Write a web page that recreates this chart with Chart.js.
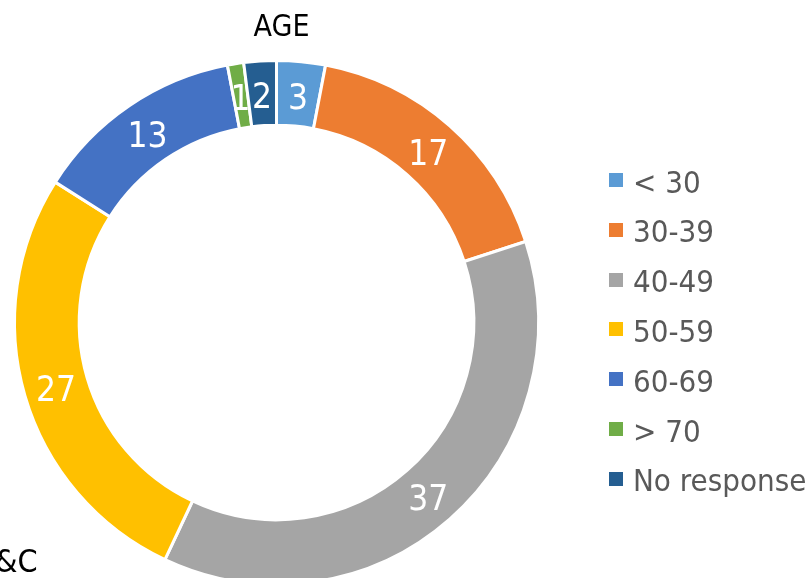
<!DOCTYPE html>
<html>
<head>
<meta charset="utf-8">
<script src="https://cdn.jsdelivr.net/npm/chart.js@4.4.1/dist/chart.umd.min.js"></script>
<style>
  html, body { margin: 0; padding: 0; width: 810px; height: 578px; overflow: hidden; background: #fff; }
  #wrap { position: absolute; left: 0; top: 0; width: 810px; height: 600px; }
  .txt { position: absolute; font-family: "DejaVu Sans Condensed", "DejaVu Sans", sans-serif; font-stretch: condensed; white-space: nowrap; }
  #title { left: 0; width: 563px; top: 8px; text-align: center; font-size: 30px; color: #000; line-height: 35px; }
  #cut { left: -5px; top: 542px; font-size: 32px; color: #000; line-height: 38px; }
  .leg { position: absolute; left: 609px; height: 36px; font-family: "DejaVu Sans Condensed", "DejaVu Sans", sans-serif; font-stretch: condensed; font-size: 31px; color: #595959; line-height: 36px; white-space: nowrap; }
  .leg i { position: absolute; left: 0; top: 9.5px; width: 14px; height: 14px; }
  .leg span { position: absolute; left: 24px; top: 0; }
</style>
</head>
<body>
<div id="wrap"><canvas id="c"></canvas></div>
<div class="txt" id="title">AGE</div>
<div class="txt" id="cut">&amp;C</div>
<div id="legend"></div>
<script>
const categories = ["< 30", "30-39", "40-49", "50-59", "60-69", "> 70", "No response"];
const values = [3, 17, 37, 27, 13, 1, 2];
const colors = ["#5B9BD5", "#ED7D31", "#A5A5A5", "#FFC000", "#4472C4", "#70AD47", "#255E91"];

const LABEL_SIZE = 35;
const labelPlugin = {
  id: 'sliceLabels',
  afterDatasetsDraw(chart) {
    const ctx = chart.ctx;
    const meta = chart.getDatasetMeta(0);
    ctx.save();
    ctx.fillStyle = '#ffffff';
    ctx.font = LABEL_SIZE + 'px "DejaVu Sans Condensed", "DejaVu Sans", sans-serif';
    try { ctx.fontStretch = 'condensed'; } catch (e) {}
    ctx.textAlign = 'center';
    ctx.textBaseline = 'alphabetic';
    meta.data.forEach((arc, i) => {
      const p = arc.tooltipPosition();
      ctx.fillText(String(values[i]), p.x, p.y + 2 + 0.3645 * LABEL_SIZE);
    });
    ctx.restore();
  }
};

new Chart(document.getElementById('c'), {
  type: 'doughnut',
  data: {
    labels: categories,
    datasets: [{
      data: values,
      backgroundColor: colors,
      borderColor: '#ffffff',
      borderWidth: 3,
      hoverOffset: 0
    }]
  },
  options: {
    responsive: true,
    maintainAspectRatio: false,
    animation: false,
    cutout: '75.3%',
    layout: { padding: { left: 13, top: 59, right: 270, bottom: 14 } },
    plugins: {
      legend: { display: false },
      title: { display: false },
      tooltip: { enabled: false }
    }
  },
  plugins: [labelPlugin]
});

const legend = document.getElementById('legend');
categories.forEach((name, i) => {
  const row = document.createElement('div');
  row.className = 'leg';
  row.style.top = (163.5 + i * 49.8) + 'px';
  const sw = document.createElement('i');
  sw.style.background = colors[i];
  const t = document.createElement('span');
  t.textContent = name;
  row.appendChild(sw);
  row.appendChild(t);
  legend.appendChild(row);
});
</script>
</body>
</html>
